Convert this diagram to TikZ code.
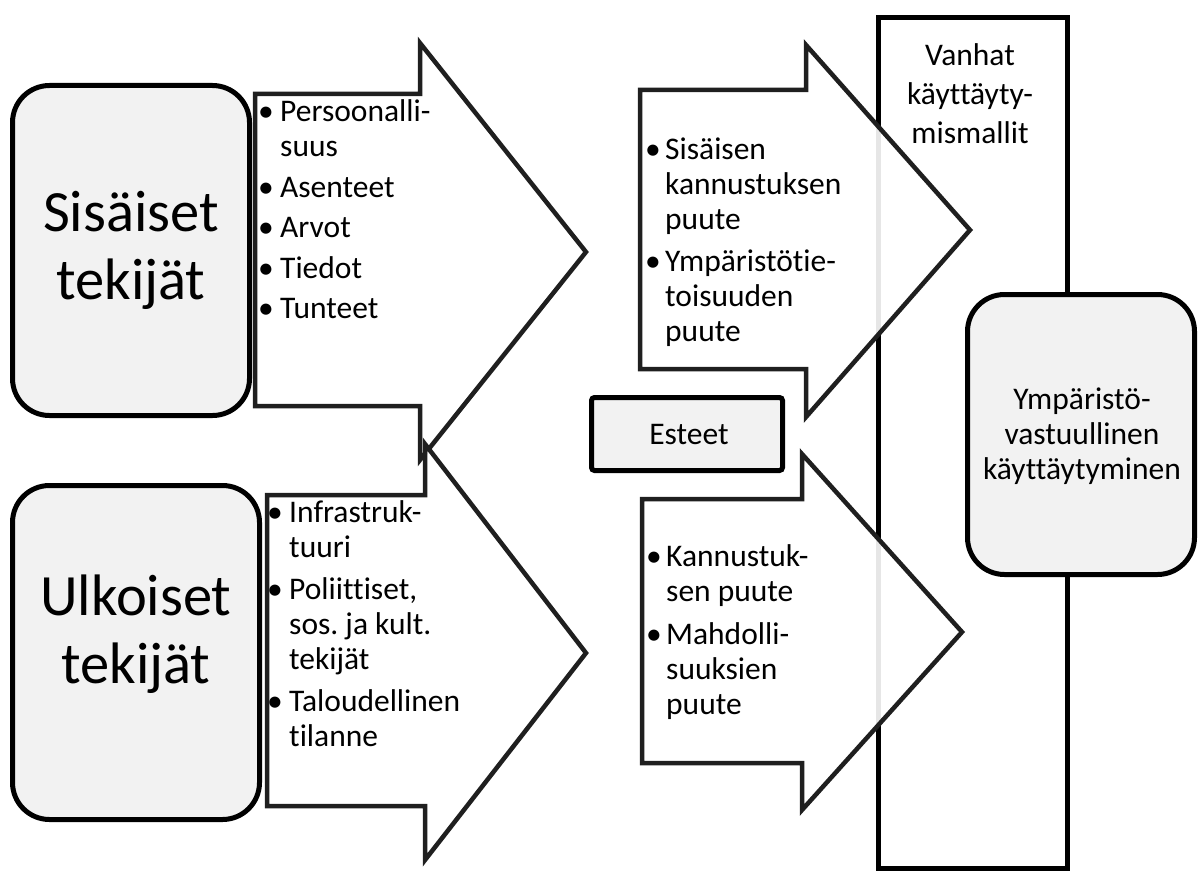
\documentclass[tikz,border=0pt]{standalone}
\usepackage{fontspec}
\setmainfont{Carlito}[Ligatures=NoCommon]
\frenchspacing
\begin{document}
\begin{tikzpicture}[x=1pt,y=-1pt,
  outline/.style={draw=black, line width=5pt, line join=miter},
  bigarrow/.style={draw=black!88, line width=4.5pt, line join=miter, fill=white, fill opacity=0.9},
  panel/.style={outline, fill=black!5, rounded corners=37pt, inner sep=0pt},
  bigtext/.style={align=center, inner sep=0pt, font=\fontsize{58.5}{68}\selectfont},
  midtext/.style={align=center, inner sep=0pt, font=\fontsize{31.5}{35}\selectfont},
  listtext/.style={anchor=north west, inner sep=0pt, align=left, font=\fontsize{31.5}{35}\selectfont},
]
\useasboundingbox (0,0) rectangle (1204,872);

% tall column of old habits
\node[outline, fill=white, minimum width=189pt, minimum height=850pt,
      anchor=north west, inner sep=0pt] (old) at (875.5,15.5) {};
\node[midtext, font=\fontsize{31.5}{39}\selectfont] (oldlbl) at (970,94)
  {Vanhat\\käyttäyty-\\mismallit};

% barrier arrows crossing the column
\draw[bigarrow] (640,90) -- (806,90) -- (806,45) -- (970,230) -- (806,417)
  -- (806,369) -- (640,369) -- cycle;
\draw[bigarrow] (642,499) -- (802,499) -- (802,454) -- (962,632) -- (802,810)
  -- (802,763) -- (642,763) -- cycle;

% barriers label
\node[outline, fill=black!5, rounded corners=3pt, minimum width=191pt,
      minimum height=73pt, inner sep=0pt] (barriers) at (687,434) {};
\node[midtext] (barrierslbl) at (689,435) {Esteet};

% target behaviour
\node[panel, minimum width=227pt, minimum height=280pt] (resp) at (1081,434.5) {};
\node[midtext] (resplbl) at (1082,436)
  {Ympäristö-\\vastuullinen\\käyttäytyminen};

% factor arrows
\draw[bigarrow] (255,94) -- (420,94) -- (420,43) -- (586,252) -- (420,460)
  -- (420,406) -- (255,406) -- cycle;
\draw[bigarrow] (267,495) -- (425,495) -- (425,444) -- (586,653) -- (425,860)
  -- (425,806) -- (267,806) -- cycle;

% factor boxes
\node[panel, minimum width=237pt, minimum height=330pt] (inner) at (131,250.5) {};
\node[bigtext] (innerlbl) at (131,250) {Sisäiset\\tekijät};
\node[panel, minimum width=247pt, minimum height=334pt] (outer) at (136,652.5) {};
\node[bigtext] (outerlbl) at (136,634) {Ulkoiset\\tekijät};

% bullet lists
\node[listtext] (innerlist) at (258,97) {%
  \begin{tabular}{@{}p{22pt}@{}l@{}}
  • & Persoonalli-\\
    & suus\\[5.5pt]
  • & Asenteet\\[5.5pt]
  • & Arvot\\[5.5pt]
  • & Tiedot\\[5.5pt]
  • & Tunteet
  \end{tabular}};
\node[listtext] (outerlist) at (267,497.5) {%
  \begin{tabular}{@{}p{22pt}@{}l@{}}
  • & Infrastruk-\\
    & tuuri\\[7pt]
  • & Poliittiset,\\
    & sos. ja kult.\\
    & tekijät\\[7pt]
  • & Taloudellinen\\
    & tilanne
  \end{tabular}};
\node[listtext] (barrierlist1) at (645,134.5) {%
  \begin{tabular}{@{}p{20pt}@{}l@{}}
  • & Sisäisen\\
    & kannustuksen\\
    & puute\\[7pt]
  • & Ympäristötie-\\
    & toisuuden\\
    & puute
  \end{tabular}};
\node[listtext] (barrierlist2) at (646,542) {%
  \begin{tabular}{@{}p{20pt}@{}l@{}}
  • & Kannustuk-\\
    & sen puute\\[8pt]
  • & Mahdolli-\\
    & suuksien\\
    & puute
  \end{tabular}};
\end{tikzpicture}
\end{document}
